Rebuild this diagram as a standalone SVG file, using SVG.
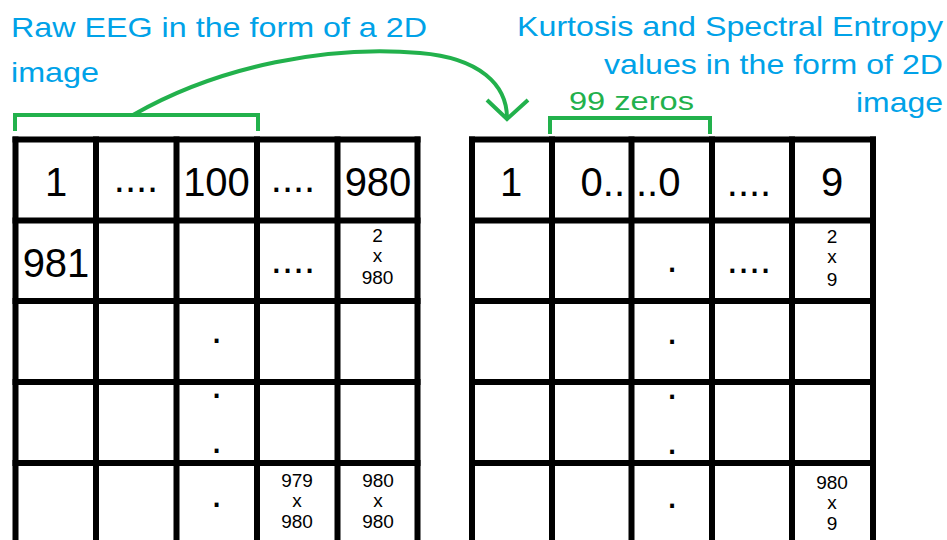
<svg xmlns="http://www.w3.org/2000/svg" width="947" height="540" viewBox="0 0 947 540">
  <defs>
    <style>
      .title { font-family: "Liberation Sans", Arial, sans-serif; font-size: 28px; fill: #00a2e8; }
      .green { font-family: "Liberation Sans", Arial, sans-serif; font-size: 26px; fill: #22b14c; }
      .big { font-family: "Liberation Sans", Arial, sans-serif; font-size: 40px; fill: #000; text-anchor: middle; }
      .small { font-family: "Liberation Sans", Arial, sans-serif; font-size: 19px; fill: #000; text-anchor: middle; }
      .grid { stroke: #000; stroke-width: 6; fill: none; stroke-linecap: square; }
      .gline { stroke: #22b14c; stroke-width: 4; fill: none; }
    </style>
  </defs>
  <rect x="0" y="0" width="947" height="540" fill="#fff"/>

  <g id="title-left">
    <text class="title" x="11" y="37" textLength="416" lengthAdjust="spacingAndGlyphs">Raw EEG in the form of a 2D</text>
    <text class="title" x="11" y="82" textLength="88" lengthAdjust="spacingAndGlyphs">image</text>
  </g>

  <g id="title-right">
    <text class="title" x="517" y="36" textLength="426" lengthAdjust="spacingAndGlyphs">Kurtosis and Spectral Entropy</text>
    <text class="title" x="604" y="74" textLength="339" lengthAdjust="spacingAndGlyphs">values in the form of 2D</text>
    <text class="title" x="856" y="112" textLength="87" lengthAdjust="spacingAndGlyphs">image</text>
  </g>

  <g id="bracket-left">
    <polyline class="gline" points="15,131 15,115 258,115 258,131"/>
  </g>

  <g id="bracket-right">
    <polyline class="gline" points="550,134 550,118 710,118 710,134"/>
    <text class="green" x="569" y="110" textLength="125" lengthAdjust="spacingAndGlyphs">99 zeros</text>
  </g>

  <g id="connectors">
    <path class="gline" d="M133,115 C220,65 330,45 420,53 C480,58 507,85 507,118"/>
    <polyline class="gline" points="487,100 507,119 528,100"/>
  </g>

  <g id="grid-left">
    <g class="grid">
      <line x1="15.5" y1="139.5" x2="417.5" y2="139.5"/>
      <line x1="15.5" y1="220.5" x2="417.5" y2="220.5"/>
      <line x1="15.5" y1="301" x2="417.5" y2="301"/>
      <line x1="15.5" y1="382" x2="417.5" y2="382"/>
      <line x1="15.5" y1="463" x2="417.5" y2="463"/>
      <line x1="15.5" y1="139.5" x2="15.5" y2="545"/>
      <line x1="96" y1="139.5" x2="96" y2="545"/>
      <line x1="176.5" y1="139.5" x2="176.5" y2="545"/>
      <line x1="257" y1="139.5" x2="257" y2="545"/>
      <line x1="337.5" y1="139.5" x2="337.5" y2="545"/>
      <line x1="417.5" y1="139.5" x2="417.5" y2="545"/>
    </g>
    <text class="big" x="56" y="196">1</text>
    <text class="big" x="136" y="192">....</text>
    <text class="big" x="216.5" y="196">100</text>
    <text class="big" x="293" y="192">....</text>
    <text class="big" x="378" y="196">980</text>

    <text class="big" x="56" y="277">981</text>
    <text class="big" x="293" y="273">....</text>
    <text class="small" x="377.5" y="242">2</text>
    <text class="small" x="377.5" y="262">x</text>
    <text class="small" x="377.5" y="284">980</text>

    <text class="big" x="216.5" y="343">.</text>
    <text class="big" x="216.5" y="398">.</text>
    <text class="big" x="216.5" y="453">.</text>
    <text class="big" x="216.5" y="507">.</text>

    <text class="small" x="297" y="487">979</text>
    <text class="small" x="297" y="507">x</text>
    <text class="small" x="297" y="528">980</text>
    <text class="small" x="378" y="487">980</text>
    <text class="small" x="378" y="507">x</text>
    <text class="small" x="378" y="528">980</text>
  </g>

  <g id="grid-right">
    <g class="grid">
      <line x1="472" y1="139.5" x2="873" y2="139.5"/>
      <line x1="472" y1="220.5" x2="873" y2="220.5"/>
      <line x1="472" y1="301" x2="873" y2="301"/>
      <line x1="472" y1="382" x2="873" y2="382"/>
      <line x1="472" y1="463" x2="873" y2="463"/>
      <line x1="472" y1="139.5" x2="472" y2="545"/>
      <line x1="552" y1="139.5" x2="552" y2="545"/>
      <line x1="631.5" y1="139.5" x2="631.5" y2="545"/>
      <line x1="712" y1="139.5" x2="712" y2="545"/>
      <line x1="792" y1="139.5" x2="792" y2="545"/>
      <line x1="873" y1="139.5" x2="873" y2="545"/>
    </g>
    <text class="big" x="511" y="196">1</text>
    <text class="big" x="625" y="196" style="text-anchor:end">0..</text>
    <text class="big" x="636" y="196" style="text-anchor:start">..0</text>
    <text class="big" x="749" y="196">....</text>
    <text class="big" x="832" y="196">9</text>

    <text class="big" x="672" y="272">.</text>
    <text class="big" x="749" y="273">....</text>
    <text class="small" x="832" y="243">2</text>
    <text class="small" x="832" y="263">x</text>
    <text class="small" x="832" y="286">9</text>

    <text class="big" x="672" y="344">.</text>
    <text class="big" x="672" y="399">.</text>
    <text class="big" x="672" y="454">.</text>
    <text class="big" x="672" y="508">.</text>

    <text class="small" x="832" y="489">980</text>
    <text class="small" x="832" y="509">x</text>
    <text class="small" x="832" y="530">9</text>
  </g>
</svg>
